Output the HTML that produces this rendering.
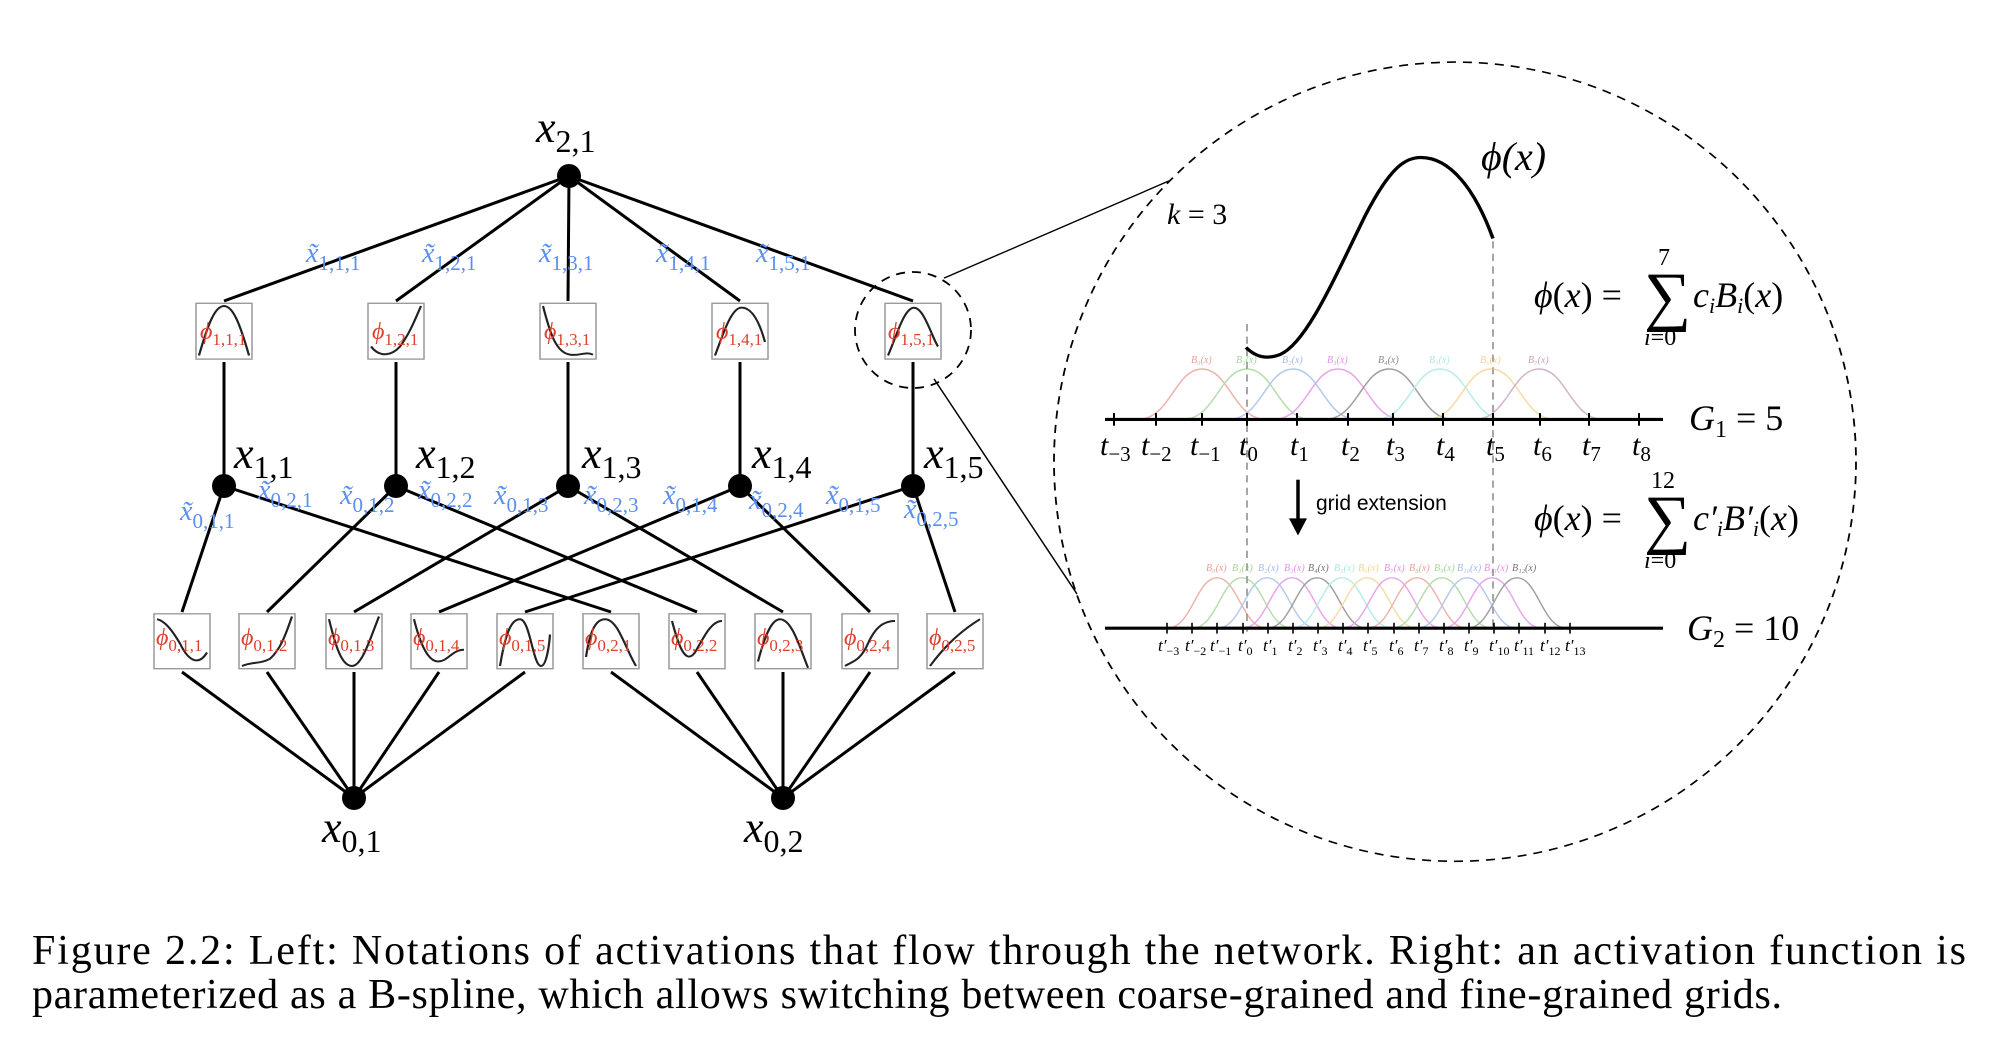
<!DOCTYPE html>
<html><head><meta charset="utf-8"><style>
html,body{margin:0;padding:0;background:#fff;}
svg{display:block;}
.s{font-family:"Liberation Serif",serif;}
</style></head><body>
<svg width="1996" height="1046" viewBox="0 0 1996 1046" xmlns="http://www.w3.org/2000/svg" class="s">
<g stroke="#000" stroke-width="3" fill="none">
<line x1="569" y1="176" x2="224" y2="301"/><line x1="569" y1="176" x2="396" y2="301"/><line x1="569" y1="176" x2="568" y2="301"/><line x1="569" y1="176" x2="740" y2="301"/><line x1="569" y1="176" x2="913" y2="301"/>
<line x1="224" y1="362" x2="224" y2="486"/><line x1="396" y1="362" x2="396" y2="486"/><line x1="568" y1="362" x2="568" y2="486"/><line x1="740" y1="362" x2="740" y2="486"/><line x1="913" y1="362" x2="913" y2="486"/>
<line x1="224" y1="486" x2="182" y2="612"/><line x1="224" y1="486" x2="611" y2="612"/>
<line x1="396" y1="486" x2="267" y2="612"/><line x1="396" y1="486" x2="697" y2="612"/>
<line x1="568" y1="486" x2="354" y2="612"/><line x1="568" y1="486" x2="783" y2="612"/>
<line x1="740" y1="486" x2="439" y2="612"/><line x1="740" y1="486" x2="870" y2="612"/>
<line x1="913" y1="486" x2="525" y2="612"/><line x1="913" y1="486" x2="955" y2="612"/>
<line x1="182" y1="672" x2="354" y2="798"/><line x1="267" y1="672" x2="354" y2="798"/><line x1="354" y1="672" x2="354" y2="798"/><line x1="439" y1="672" x2="354" y2="798"/><line x1="525" y1="672" x2="354" y2="798"/>
<line x1="611" y1="672" x2="783" y2="798"/><line x1="697" y1="672" x2="783" y2="798"/><line x1="783" y1="672" x2="783" y2="798"/><line x1="870" y1="672" x2="783" y2="798"/><line x1="955" y1="672" x2="783" y2="798"/>
</g>
<g fill="#000">
<circle cx="569" cy="176" r="12"/>
<circle cx="224" cy="486" r="12"/><circle cx="396" cy="486" r="12"/><circle cx="568" cy="486" r="12"/><circle cx="740" cy="486" r="12"/><circle cx="913" cy="486" r="12"/>
<circle cx="354" cy="798" r="12"/><circle cx="783" cy="798" r="12"/>
</g>
<g transform="scale(1,0.9)">
<g stroke="#999" stroke-width="1.5" fill="#fff">
<rect x="196" y="337" width="56" height="62"/><rect x="368" y="337" width="56" height="62"/><rect x="540" y="337" width="56" height="62"/><rect x="712" y="337" width="56" height="62"/><rect x="885" y="337" width="56" height="62"/>
<rect x="154" y="682" width="56" height="61"/><rect x="239" y="682" width="56" height="61"/><rect x="326" y="682" width="56" height="61"/><rect x="411" y="682" width="56" height="61"/><rect x="497" y="682" width="56" height="61"/>
<rect x="583" y="682" width="56" height="61"/><rect x="669" y="682" width="56" height="61"/><rect x="755" y="682" width="56" height="61"/><rect x="842" y="682" width="56" height="61"/><rect x="927" y="682" width="56" height="61"/>
</g>
<g stroke="#222" stroke-width="2.2" fill="none">
<path d="M199,395 C208,360 215,340 224,340 C233,340 240,360 249,395"/>
<path d="M371,385 C380,398 392,395 400,385 C410,370 415,355 421,340"/>
<path d="M543,340 C550,370 556,392 570,394 C580,396 585,390 593,394"/>
<path d="M715,395 C722,375 730,345 740,342 C752,340 760,360 765,380"/>
<path d="M888,395 C896,375 904,342 914,342 C924,342 932,375 938,385"/>
<path d="M157,688 C165,690 172,700 180,715 C190,738 200,738 207,725"/>
<path d="M242,740 C252,735 260,738 270,732 C282,720 287,700 292,685"/>
<path d="M329,688 C336,720 342,740 352,740 C362,740 370,710 379,685"/>
<path d="M414,688 C420,715 428,735 438,735 C448,735 452,722 464,722"/>
<path d="M500,740 C506,700 512,688 520,688 C530,688 533,740 541,740 C546,740 549,720 550,705"/>
<path d="M586,730 C590,700 596,688 605,688 C618,688 625,720 636,740"/>
<path d="M672,690 C678,715 685,740 695,725 C705,705 712,690 722,690"/>
<path d="M758,735 C765,705 772,688 780,688 C792,688 800,720 808,742"/>
<path d="M845,740 C852,735 860,735 868,715 C876,695 885,690 895,690"/>
<path d="M930,740 C940,725 955,705 980,688"/>
</g>
</g>
<g fill="#d9422b" font-style="italic" font-size="24">
<text x="200" y="339">ϕ<tspan font-size="17" font-style="normal" dy="6">1,1,1</tspan></text>
<text x="372" y="339">ϕ<tspan font-size="17" font-style="normal" dy="6">1,2,1</tspan></text>
<text x="544" y="339">ϕ<tspan font-size="17" font-style="normal" dy="6">1,3,1</tspan></text>
<text x="716" y="339">ϕ<tspan font-size="17" font-style="normal" dy="6">1,4,1</tspan></text>
<text x="888" y="339">ϕ<tspan font-size="17" font-style="normal" dy="6">1,5,1</tspan></text>
<text x="156" y="645">ϕ<tspan font-size="17" font-style="normal" dy="6">0,1,1</tspan></text>
<text x="241" y="645">ϕ<tspan font-size="17" font-style="normal" dy="6">0,1,2</tspan></text>
<text x="328" y="645">ϕ<tspan font-size="17" font-style="normal" dy="6">0,1,3</tspan></text>
<text x="413" y="645">ϕ<tspan font-size="17" font-style="normal" dy="6">0,1,4</tspan></text>
<text x="499" y="645">ϕ<tspan font-size="17" font-style="normal" dy="6">0,1,5</tspan></text>
<text x="585" y="645">ϕ<tspan font-size="17" font-style="normal" dy="6">0,2,1</tspan></text>
<text x="671" y="645">ϕ<tspan font-size="17" font-style="normal" dy="6">0,2,2</tspan></text>
<text x="757" y="645">ϕ<tspan font-size="17" font-style="normal" dy="6">0,2,3</tspan></text>
<text x="844" y="645">ϕ<tspan font-size="17" font-style="normal" dy="6">0,2,4</tspan></text>
<text x="929" y="645">ϕ<tspan font-size="17" font-style="normal" dy="6">0,2,5</tspan></text>
</g>
<g fill="#5b8ff0" font-size="28">
<text x="306" y="262"><tspan font-style="italic">x̃</tspan><tspan font-size="21" dy="8">1,1,1</tspan></text>
<text x="422" y="262"><tspan font-style="italic">x̃</tspan><tspan font-size="21" dy="8">1,2,1</tspan></text>
<text x="539" y="262"><tspan font-style="italic">x̃</tspan><tspan font-size="21" dy="8">1,3,1</tspan></text>
<text x="656" y="262"><tspan font-style="italic">x̃</tspan><tspan font-size="21" dy="8">1,4,1</tspan></text>
<text x="756" y="262"><tspan font-style="italic">x̃</tspan><tspan font-size="21" dy="8">1,5,1</tspan></text>
<text x="180" y="520"><tspan font-style="italic">x̃</tspan><tspan font-size="21" dy="8">0,1,1</tspan></text>
<text x="258" y="499"><tspan font-style="italic">x̃</tspan><tspan font-size="21" dy="8">0,2,1</tspan></text>
<text x="340" y="504"><tspan font-style="italic">x̃</tspan><tspan font-size="21" dy="8">0,1,2</tspan></text>
<text x="418" y="499"><tspan font-style="italic">x̃</tspan><tspan font-size="21" dy="8">0,2,2</tspan></text>
<text x="494" y="504"><tspan font-style="italic">x̃</tspan><tspan font-size="21" dy="8">0,1,3</tspan></text>
<text x="584" y="504"><tspan font-style="italic">x̃</tspan><tspan font-size="21" dy="8">0,2,3</tspan></text>
<text x="663" y="504"><tspan font-style="italic">x̃</tspan><tspan font-size="21" dy="8">0,1,4</tspan></text>
<text x="749" y="509"><tspan font-style="italic">x̃</tspan><tspan font-size="21" dy="8">0,2,4</tspan></text>
<text x="826" y="504"><tspan font-style="italic">x̃</tspan><tspan font-size="21" dy="8">0,1,5</tspan></text>
<text x="904" y="518"><tspan font-style="italic">x̃</tspan><tspan font-size="21" dy="8">0,2,5</tspan></text>
</g>
<g fill="#000" font-size="44">
<text x="536" y="142"><tspan font-style="italic">x</tspan><tspan font-size="32" dy="10">2,1</tspan></text>
<text x="234" y="468"><tspan font-style="italic">x</tspan><tspan font-size="32" dy="10">1,1</tspan></text>
<text x="416" y="468"><tspan font-style="italic">x</tspan><tspan font-size="32" dy="10">1,2</tspan></text>
<text x="582" y="468"><tspan font-style="italic">x</tspan><tspan font-size="32" dy="10">1,3</tspan></text>
<text x="752" y="468"><tspan font-style="italic">x</tspan><tspan font-size="32" dy="10">1,4</tspan></text>
<text x="924" y="468"><tspan font-style="italic">x</tspan><tspan font-size="32" dy="10">1,5</tspan></text>
<text x="322" y="842"><tspan font-style="italic">x</tspan><tspan font-size="32" dy="10">0,1</tspan></text>
<text x="744" y="842"><tspan font-style="italic">x</tspan><tspan font-size="32" dy="10">0,2</tspan></text>
</g>
<circle cx="913" cy="330" r="58" fill="none" stroke="#000" stroke-width="1.8" stroke-dasharray="9,7"/>
<g transform="scale(1,0.9)">
<ellipse cx="1455" cy="513" rx="401" ry="444" fill="none" stroke="#000" stroke-width="1.8" stroke-dasharray="9,7"/>
<line x1="944" y1="309" x2="1169" y2="201" stroke="#000" stroke-width="1.5"/>
<line x1="934" y1="421" x2="1077" y2="660" stroke="#000" stroke-width="1.5"/>
<g stroke="#888" stroke-width="1.5" stroke-dasharray="8,6">
<line x1="1247" y1="360" x2="1247" y2="702"/>
<line x1="1493" y1="268" x2="1493" y2="702"/>
</g>
<path d="M1246,386 C1255,396 1266,400 1280,394 C1305,382 1330,320 1365,240 C1390,186 1405,175 1421,175 C1450,175 1475,210 1493,265" fill="none" stroke="#000" stroke-width="3.5"/>
<g fill="none" stroke-width="1.6" opacity="0.55">
<path d="M1138,466 C1170,466 1175,410 1202,410 C1229,410 1234,466 1266,466" stroke="#e0786a"/>
<path d="M1183,466 C1215,466 1220,410 1247,410 C1274,410 1279,466 1311,466" stroke="#7cc46a"/>
<path d="M1229,466 C1261,466 1266,410 1293,410 C1320,410 1325,466 1357,466" stroke="#7c9ee0"/>
<path d="M1274,466 C1306,466 1311,410 1338,410 C1365,410 1370,466 1402,466" stroke="#d85ee0"/>
<path d="M1325,466 C1357,466 1362,410 1389,410 C1416,410 1421,466 1453,466" stroke="#555"/>
<path d="M1376,466 C1408,466 1413,410 1440,410 C1467,410 1472,466 1504,466" stroke="#7fe0d8"/>
<path d="M1427,466 C1459,466 1464,410 1491,410 C1518,410 1523,466 1555,466" stroke="#f0c060"/>
<path d="M1475,466 C1507,466 1512,410 1539,410 C1566,410 1571,466 1603,466" stroke="#b07aa0"/>
</g>
<g fill="none" stroke-width="1.5" opacity="0.55">
<path d="M1167,698 C1192,698 1196,642 1217,642 C1238,642 1242,698 1267,698" stroke="#e0786a"/>
<path d="M1192,698 C1217,698 1221,642 1242,642 C1263,642 1267,698 1292,698" stroke="#7cc46a"/>
<path d="M1217,698 C1242,698 1246,642 1267,642 C1288,642 1292,698 1317,698" stroke="#7c9ee0"/>
<path d="M1242,698 C1267,698 1271,642 1292,642 C1313,642 1317,698 1342,698" stroke="#d85ee0"/>
<path d="M1267,698 C1292,698 1296,642 1317,642 C1338,642 1342,698 1367,698" stroke="#555"/>
<path d="M1292,698 C1317,698 1321,642 1342,642 C1363,642 1367,698 1392,698" stroke="#7fe0d8"/>
<path d="M1317,698 C1342,698 1346,642 1367,642 C1388,642 1392,698 1417,698" stroke="#f0c060"/>
<path d="M1342,698 C1367,698 1371,642 1392,642 C1413,642 1417,698 1442,698" stroke="#d85ee0"/>
<path d="M1367,698 C1392,698 1396,642 1417,642 C1438,642 1442,698 1467,698" stroke="#e0786a"/>
<path d="M1392,698 C1417,698 1421,642 1442,642 C1463,642 1467,698 1492,698" stroke="#7cc46a"/>
<path d="M1417,698 C1442,698 1446,642 1467,642 C1488,642 1492,698 1517,698" stroke="#7c9ee0"/>
<path d="M1442,698 C1467,698 1471,642 1492,642 C1513,642 1517,698 1542,698" stroke="#d85ee0"/>
<path d="M1467,698 C1492,698 1496,642 1517,642 C1538,642 1542,698 1567,698" stroke="#555"/>
</g>
<g stroke="#000" stroke-width="3.5"><line x1="1105" y1="466" x2="1663" y2="466"/><line x1="1105" y1="698" x2="1663" y2="698"/></g>
<g stroke="#000" stroke-width="2">
<line x1="1114" y1="459" x2="1114" y2="473"/><line x1="1156" y1="459" x2="1156" y2="473"/><line x1="1202" y1="459" x2="1202" y2="473"/><line x1="1247" y1="459" x2="1247" y2="473"/><line x1="1297" y1="459" x2="1297" y2="473"/><line x1="1348" y1="459" x2="1348" y2="473"/><line x1="1393" y1="459" x2="1393" y2="473"/><line x1="1443" y1="459" x2="1443" y2="473"/><line x1="1493" y1="459" x2="1493" y2="473"/><line x1="1540" y1="459" x2="1540" y2="473"/><line x1="1589" y1="459" x2="1589" y2="473"/><line x1="1639" y1="459" x2="1639" y2="473"/>
</g>
<g stroke="#000" stroke-width="1.6">
<line x1="1167" y1="692" x2="1167" y2="704"/><line x1="1192" y1="692" x2="1192" y2="704"/><line x1="1217" y1="692" x2="1217" y2="704"/><line x1="1243" y1="692" x2="1243" y2="704"/><line x1="1268" y1="692" x2="1268" y2="704"/><line x1="1293" y1="692" x2="1293" y2="704"/><line x1="1318" y1="692" x2="1318" y2="704"/><line x1="1343" y1="692" x2="1343" y2="704"/><line x1="1368" y1="692" x2="1368" y2="704"/><line x1="1394" y1="692" x2="1394" y2="704"/><line x1="1419" y1="692" x2="1419" y2="704"/><line x1="1444" y1="692" x2="1444" y2="704"/><line x1="1469" y1="692" x2="1469" y2="704"/><line x1="1494" y1="692" x2="1494" y2="704"/><line x1="1519" y1="692" x2="1519" y2="704"/><line x1="1545" y1="692" x2="1545" y2="704"/><line x1="1570" y1="692" x2="1570" y2="704"/>
</g>
<line x1="1298" y1="533" x2="1298" y2="580" stroke="#000" stroke-width="3.5"/>
<polygon points="1289,576 1307,576 1298,595" fill="#000"/>
</g>
<g font-size="10" font-style="italic" opacity="0.7">
<text x="1191" y="363" fill="#e0786a">B₀(x)</text><text x="1236" y="363" fill="#7cc46a">B₁(x)</text><text x="1282" y="363" fill="#7c9ee0">B₂(x)</text><text x="1327" y="363" fill="#d85ee0">B₃(x)</text><text x="1378" y="363" fill="#555">B₄(x)</text><text x="1429" y="363" fill="#7fe0d8">B₅(x)</text><text x="1480" y="363" fill="#f0c060">B₆(x)</text><text x="1528" y="363" fill="#b07aa0">B₇(x)</text>
</g>
<g font-size="10" font-style="italic" opacity="0.7">
<text x="1206" y="571" fill="#e0786a">B₀(x)</text><text x="1232" y="571" fill="#7cc46a">B₁(x)</text><text x="1258" y="571" fill="#7c9ee0">B₂(x)</text><text x="1284" y="571" fill="#d85ee0">B₃(x)</text><text x="1308" y="571" fill="#333">B₄(x)</text><text x="1334" y="571" fill="#7fe0d8">B₅(x)</text><text x="1358" y="571" fill="#f0c060">B₆(x)</text><text x="1384" y="571" fill="#d85ee0">B₇(x)</text><text x="1409" y="571" fill="#e0786a">B₈(x)</text><text x="1434" y="571" fill="#7cc46a">B₉(x)</text><text x="1457" y="571" fill="#7c9ee0">B₁₀(x)</text><text x="1484" y="571" fill="#d85ee0">B₁₁(x)</text><text x="1512" y="571" fill="#333">B₁₂(x)</text>
</g>
<g font-size="30" fill="#000">
<text x="1100" y="455"><tspan font-style="italic">t</tspan><tspan font-size="21" dy="6">−3</tspan></text>
<text x="1141" y="455"><tspan font-style="italic">t</tspan><tspan font-size="21" dy="6">−2</tspan></text>
<text x="1190" y="455"><tspan font-style="italic">t</tspan><tspan font-size="21" dy="6">−1</tspan></text>
<text x="1239" y="455"><tspan font-style="italic">t</tspan><tspan font-size="21" dy="6">0</tspan></text>
<text x="1290" y="455"><tspan font-style="italic">t</tspan><tspan font-size="21" dy="6">1</tspan></text>
<text x="1341" y="455"><tspan font-style="italic">t</tspan><tspan font-size="21" dy="6">2</tspan></text>
<text x="1386" y="455"><tspan font-style="italic">t</tspan><tspan font-size="21" dy="6">3</tspan></text>
<text x="1436" y="455"><tspan font-style="italic">t</tspan><tspan font-size="21" dy="6">4</tspan></text>
<text x="1486" y="455"><tspan font-style="italic">t</tspan><tspan font-size="21" dy="6">5</tspan></text>
<text x="1533" y="455"><tspan font-style="italic">t</tspan><tspan font-size="21" dy="6">6</tspan></text>
<text x="1582" y="455"><tspan font-style="italic">t</tspan><tspan font-size="21" dy="6">7</tspan></text>
<text x="1632" y="455"><tspan font-style="italic">t</tspan><tspan font-size="21" dy="6">8</tspan></text>
</g>
<g font-size="17" fill="#000">
<text x="1158" y="651"><tspan font-style="italic">t′</tspan><tspan font-size="12" dy="4">−3</tspan></text>
<text x="1185" y="651"><tspan font-style="italic">t′</tspan><tspan font-size="12" dy="4">−2</tspan></text>
<text x="1210" y="651"><tspan font-style="italic">t′</tspan><tspan font-size="12" dy="4">−1</tspan></text>
<text x="1238" y="651"><tspan font-style="italic">t′</tspan><tspan font-size="12" dy="4">0</tspan></text>
<text x="1263" y="651"><tspan font-style="italic">t′</tspan><tspan font-size="12" dy="4">1</tspan></text>
<text x="1288" y="651"><tspan font-style="italic">t′</tspan><tspan font-size="12" dy="4">2</tspan></text>
<text x="1313" y="651"><tspan font-style="italic">t′</tspan><tspan font-size="12" dy="4">3</tspan></text>
<text x="1338" y="651"><tspan font-style="italic">t′</tspan><tspan font-size="12" dy="4">4</tspan></text>
<text x="1363" y="651"><tspan font-style="italic">t′</tspan><tspan font-size="12" dy="4">5</tspan></text>
<text x="1389" y="651"><tspan font-style="italic">t′</tspan><tspan font-size="12" dy="4">6</tspan></text>
<text x="1414" y="651"><tspan font-style="italic">t′</tspan><tspan font-size="12" dy="4">7</tspan></text>
<text x="1439" y="651"><tspan font-style="italic">t′</tspan><tspan font-size="12" dy="4">8</tspan></text>
<text x="1464" y="651"><tspan font-style="italic">t′</tspan><tspan font-size="12" dy="4">9</tspan></text>
<text x="1489" y="651"><tspan font-style="italic">t′</tspan><tspan font-size="12" dy="4">10</tspan></text>
<text x="1514" y="651"><tspan font-style="italic">t′</tspan><tspan font-size="12" dy="4">11</tspan></text>
<text x="1540" y="651"><tspan font-style="italic">t′</tspan><tspan font-size="12" dy="4">12</tspan></text>
<text x="1565" y="651"><tspan font-style="italic">t′</tspan><tspan font-size="12" dy="4">13</tspan></text>
</g>
<text x="1316" y="510" font-family="Liberation Sans, sans-serif" font-size="21" fill="#000">grid extension</text>
<text x="1167" y="224" font-size="30"><tspan font-style="italic">k</tspan> = 3</text>
<text x="1481" y="170" font-size="40" font-style="italic">ϕ(x)</text>
<text x="1534" y="307" font-size="36"><tspan font-style="italic">ϕ</tspan>(<tspan font-style="italic">x</tspan>) =</text>
<text x="1644" y="318" font-size="66">∑</text>
<text x="1658" y="265" font-size="24">7</text>
<text x="1644" y="345" font-size="24"><tspan font-style="italic">i</tspan>=0</text>
<text x="1693" y="307" font-size="36"><tspan font-style="italic">c</tspan><tspan font-size="22" font-style="italic" dy="6">i</tspan><tspan font-style="italic" dy="-6">B</tspan><tspan font-size="22" font-style="italic" dy="6">i</tspan><tspan dy="-6">(</tspan><tspan font-style="italic">x</tspan>)</text>
<text x="1534" y="530" font-size="36"><tspan font-style="italic">ϕ</tspan>(<tspan font-style="italic">x</tspan>) =</text>
<text x="1644" y="541" font-size="66">∑</text>
<text x="1651" y="488" font-size="24">12</text>
<text x="1644" y="568" font-size="24"><tspan font-style="italic">i</tspan>=0</text>
<text x="1693" y="530" font-size="36"><tspan font-style="italic">c′</tspan><tspan font-size="22" font-style="italic" dy="6">i</tspan><tspan font-style="italic" dy="-6">B′</tspan><tspan font-size="22" font-style="italic" dy="6">i</tspan><tspan dy="-6">(</tspan><tspan font-style="italic">x</tspan>)</text>
<text x="1689" y="430" font-size="36"><tspan font-style="italic">G</tspan><tspan font-size="24" dy="7">1</tspan><tspan dy="-7"> = 5</tspan></text>
<text x="1687" y="640" font-size="36"><tspan font-style="italic">G</tspan><tspan font-size="24" dy="7">2</tspan><tspan dy="-7"> = 10</tspan></text>
<text x="32" y="964" font-size="42" textLength="1934" lengthAdjust="spacing">Figure 2.2: Left: Notations of activations that flow through the network. Right: an activation function is</text>
<text x="32" y="1008" font-size="42" textLength="1750" lengthAdjust="spacing">parameterized as a B-spline, which allows switching between coarse-grained and fine-grained grids.</text>
</svg>
</body></html>
